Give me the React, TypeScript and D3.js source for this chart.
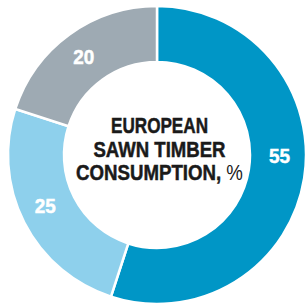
import React, { useLayoutEffect, useRef, useState } from "react";
import * as d3 from "d3";

const categories = ["A", "B", "C"];
const values = [55, 25, 20];
const labels = ["55", "25", "20"];
const colors = ["#0096c6", "#8ed0ec", "#9eaab3"];
const titleLines = ["EUROPEAN", "SAWN TIMBER", "CONSUMPTION,"];
const titleSuffix = " %";
// fraction along each slice where its label sits
const labelFractions = [0.455, 0.53, 0.49];

const W = 306;
const H = 303;
const cx = 157;
const cy = 155;
const outerR = 149;
const innerR = 93;
const labelR = 122.5;
const FONT = "'Liberation Sans', Arial, sans-serif";
const titleWidths = [97, 132, 167];
const titleBaselines = [-22, 2, 25];

export default function App() {
  const pie = d3.pie<number>().sort(null).value((d) => d);
  const arcs = pie(values);
  const arcGen = d3.arc<d3.PieArcDatum<number>>().innerRadius(innerR).outerRadius(outerR);
  const refs = useRef<(SVGTextElement | null)[]>([]);
  const [scales, setScales] = useState<number[]>([0.8, 0.8, 0.8]);

  useLayoutEffect(() => {
    const s = titleLines.map((_, i) => {
      const el = refs.current[i];
      if (!el) return 0.8;
      const len = el.getComputedTextLength();
      return len > 0 ? titleWidths[i] / len : 0.8;
    });
    setScales(s);
  }, []);

  return (
    <div style={{ position: "absolute", left: 0, top: 0, width: W, height: H, background: "#fff" }}>
      <svg width={W} height={H} style={{ display: "block" }}>
        <g transform={`translate(${cx},${cy})`}>
          {arcs.map((a, i) => (
            <path key={categories[i]} d={arcGen(a) || ""} fill={colors[i]} stroke="#fff" strokeWidth={2.5} strokeLinejoin="miter" />
          ))}
          {arcs.map((a, i) => {
            const ang = a.startAngle + (a.endAngle - a.startAngle) * labelFractions[i];
            const x = labelR * Math.sin(ang);
            const y = -labelR * Math.cos(ang);
            return (
              <g key={"l" + i} transform={`translate(${x},${y + 7.5}) scale(0.9,1)`}>
                <text textAnchor="middle" fill="#fff" stroke="#fff" strokeWidth={0.5}
                  fontFamily={FONT} fontWeight="bold" fontSize={21}>
                  {labels[i]}
                </text>
              </g>
            );
          })}
          {titleLines.map((t, i) => {
            const last = i === titleLines.length - 1;
            return (
              <g key={i} transform={`translate(2.5,${titleBaselines[i]}) scale(${scales[i]},1)`}>
                <text ref={(el) => { refs.current[i] = el; }} textAnchor="middle" fill="#1a1a1a"
                  fontFamily={FONT} fontSize={22.5}>
                  <tspan fontWeight="bold" stroke="#1a1a1a" strokeWidth={0.5}>{t}</tspan>
                  {last ? <tspan fontWeight="normal">{titleSuffix}</tspan> : null}
                </text>
              </g>
            );
          })}
        </g>
      </svg>
    </div>
  );
}
